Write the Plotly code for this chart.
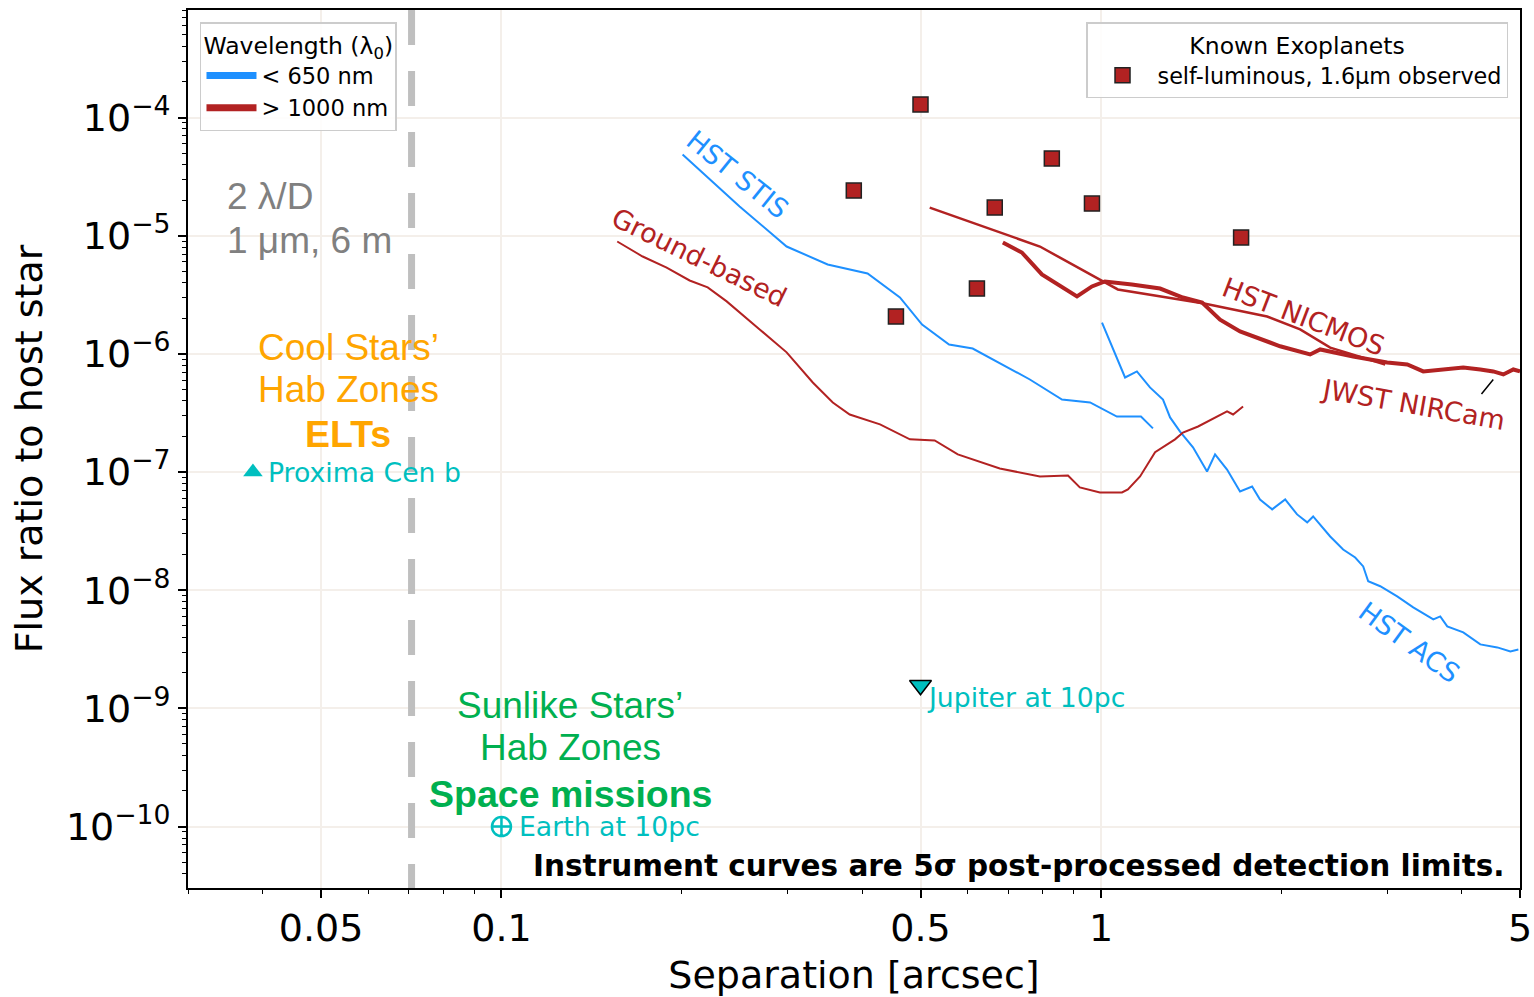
import numpy as np
import plotly.graph_objects as go

# ---------------- data ----------------
# Instrument detection limits: separation [arcsec] vs flux ratio
stis_sep = [0.2005, 0.2496, 0.299, 0.350, 0.408, 0.462, 0.503, 0.558, 0.611, 0.761, 0.861, 0.959, 1.063, 1.166, 1.221]
stis_con = [4.86e-5, 1.77e-5, 8.1e-6, 5.71e-6, 4.79e-6, 3.0e-6, 1.77e-6, 1.2e-6, 1.11e-6, 6.07e-7, 4.11e-7, 3.88e-7, 2.95e-7, 2.95e-7, 2.34e-7]

ground_sep = [0.156, 0.172, 0.1886, 0.206, 0.2208, 0.2375, 0.2696, 0.299, 0.3306, 0.357, 0.381, 0.428, 0.480, 0.528,
              0.577, 0.678, 0.791, 0.881, 0.922, 0.996, 1.084, 1.109, 1.162, 1.231, 1.329, 1.370, 1.452, 1.562, 1.623, 1.661, 1.726]
ground_con = [8.93e-6, 6.67e-6, 5.38e-6, 4.18e-6, 3.65e-6, 2.78e-6, 1.61e-6, 1.03e-6, 5.73e-7, 3.88e-7, 3.07e-7, 2.53e-7, 1.89e-7, 1.85e-7,
              1.41e-7, 1.07e-7, 9.18e-8, 9.36e-8, 7.41e-8, 6.72e-8, 6.72e-8, 7.13e-8, 9.18e-8, 1.47e-7, 1.89e-7, 2.16e-7, 2.43e-7, 2.95e-7, 3.26e-7, 3.07e-7, 3.59e-7]

nicmos_sep = [0.518, 0.791, 1.008, 1.067, 1.486, 1.893, 2.149, 2.412, 2.979]
nicmos_con = [1.73e-5, 8.1e-6, 4.1e-6, 3.51e-6, 2.67e-6, 2.07e-6, 1.61e-6, 1.13e-6, 8.13e-7]

nircam_sep = [0.686, 0.738, 0.797, 0.912, 0.966, 1.015, 1.126, 1.255, 1.370, 1.475, 1.580, 1.706, 1.990, 2.233, 2.321,
              2.634, 3.002, 3.243, 3.448, 3.781, 4.021, 4.293, 4.512, 4.690, 4.873, 5.0]
nircam_con = [8.76e-6, 7.21e-6, 4.70e-6, 3.06e-6, 3.72e-6, 4.1e-6, 3.87e-6, 3.57e-6, 3.0e-6, 2.72e-6, 1.95e-6, 1.55e-6, 1.16e-6, 9.89e-7, 1.09e-6,
              9.51e-7, 8.46e-7, 8.13e-7, 7.1e-7, 7.38e-7, 7.67e-7, 7.38e-7, 7.1e-7, 6.7e-7, 7.38e-7, 7.1e-7]

acs_sep = [1.004, 1.047, 1.097, 1.148, 1.207, 1.269, 1.304, 1.355, 1.424, 1.503, 1.550, 1.623, 1.706, 1.787, 1.842, 1.930,
           2.029, 2.124, 2.208, 2.259, 2.412, 2.535, 2.655, 2.738, 2.791, 2.923, 3.120, 3.318, 3.584, 3.681, 3.781, 4.021,
           4.293, 4.583, 4.818, 4.969]
acs_con = [1.84e-6, 1.09e-6, 6.31e-7, 7.1e-7, 5.2e-7, 4.11e-7, 2.9e-7, 2.2e-7, 1.62e-7, 1.01e-7, 1.41e-7, 1.05e-7, 6.85e-8, 7.55e-8, 5.86e-8, 4.83e-8,
           5.86e-8, 4.38e-8, 3.75e-8, 4.21e-8, 2.85e-8, 2.21e-8, 1.89e-8, 1.59e-8, 1.19e-8, 1.08e-8, 8.87e-9, 7.15e-9, 5.66e-9, 6.0e-9, 4.94e-9, 4.4e-9,
           3.48e-9, 3.28e-9, 3.03e-9, 3.15e-9]

# Known self-luminous exoplanets (H band)
planet_sep = [0.387, 0.5, 0.455, 0.621, 0.665, 0.828, 0.966, 1.713]
planet_con = [2.41e-5, 1.29e-4, 2.07e-6, 3.57e-6, 1.73e-5, 4.50e-5, 1.87e-5, 9.66e-6]

# Reference objects
proxima_sep, proxima_con = [0.0385], [1.0e-7]
jupiter_sep, jupiter_con = [0.5], [1.57e-9]
earth_sep, earth_con = [0.1], [1.0e-10]

# 2 lambda/D for 1 micron on a 6 m aperture, in arcsec
lambda_over_d = 0.0708

x_range = [np.log10(0.03), np.log10(5)]
y_range = [-10.52, -3.09]
x_ticks = [0.05, 0.1, 0.5, 1, 5]
x_tick_text = ["0.05", "0.1", "0.5", "1", "5"]
x_minor = [0.03, 0.04, 0.06, 0.07, 0.08, 0.09, 0.2, 0.3, 0.4, 0.6, 0.7, 0.8, 0.9, 2, 3, 4]
y_exponents = [-10, -9, -8, -7, -6, -5, -4]
y_ticks = [10.0 ** e for e in y_exponents]
y_tick_text = ["10<sup>−%d</sup>" % -e for e in y_exponents]
y_minor = [m * 10.0 ** e for e in range(-11, -3) for m in range(2, 10)]

BLUE = "#1E90FF"
RED = "#B22222"
CYAN = "#00BFBF"
ORANGE = "#FFA500"
GREEN = "#00B050"
GREY = "#808080"

fig = go.Figure()

# inner working angle (2 lambda/D), spanning the full height of the axes
fig.add_trace(go.Scatter(x=[lambda_over_d, lambda_over_d], y=[10 ** y_range[1], 10 ** y_range[0]], mode="lines",
                         line=dict(color="#BFBFBF", width=7, dash="35px,26px"), showlegend=False, hoverinfo="skip"))

def curve(x, y, color, width):
    fig.add_trace(go.Scatter(x=x, y=y, mode="lines", line=dict(color=color, width=width),
                             showlegend=False, hoverinfo="skip"))

curve(stis_sep, stis_con, BLUE, 2)
curve(acs_sep, acs_con, BLUE, 2)
curve(ground_sep, ground_con, RED, 2)
curve(nicmos_sep, nicmos_con, RED, 2.5)
curve(nircam_sep, nircam_con, RED, 4)

# wavelength legend entries
fig.add_trace(go.Scatter(x=[None], y=[None], mode="lines", name="&lt; 650 nm",
                         line=dict(color=BLUE, width=7), legend="legend"))
fig.add_trace(go.Scatter(x=[None], y=[None], mode="lines", name="&gt; 1000 nm",
                         line=dict(color=RED, width=7), legend="legend"))

# planets
fig.add_trace(go.Scatter(x=planet_sep, y=planet_con, mode="markers", name="self-luminous, 1.6μm observed",
                         marker=dict(symbol="square", size=15, color=RED, line=dict(color="#222222", width=1.5)),
                         legend="legend2"))

fig.add_trace(go.Scatter(x=proxima_sep, y=proxima_con, mode="markers", showlegend=False,
                         marker=dict(symbol="triangle-up", size=17, color=CYAN)))
fig.add_trace(go.Scatter(x=jupiter_sep, y=jupiter_con, mode="markers", showlegend=False,
                         marker=dict(symbol="triangle-down", size=19, color=CYAN, line=dict(color="black", width=1.5))))
fig.add_trace(go.Scatter(x=earth_sep, y=earth_con, mode="markers", showlegend=False,
                         marker=dict(symbol="circle-cross-open", size=19, color=CYAN, line=dict(width=2.5))))


def label(text, x, y, color, size, angle=0, family="DejaVu Sans", xanchor="center", align="center"):
    fig.add_annotation(x=np.log10(x), y=np.log10(y), text=text, showarrow=False, textangle=angle,
                       font=dict(color=color, size=size, family=family), xanchor=xanchor, align=align)

label("HST STIS", 0.2477, 3.3e-5, BLUE, 27, 39)
label("Ground-based", 0.214, 6.54e-6, RED, 27, 26)
label("HST NICMOS", 2.174, 2.07e-6, RED, 27, 21)
label("JWST NIRCam", 3.318, 3.73e-7, RED, 27, 10)
label("HST ACS", 3.27, 3.61e-9, BLUE, 27, 36)

label("2 λ/D", 0.0346, 2.15e-5, GREY, 37, family="Liberation Sans", xanchor="left", align="left")
label("1 μm, 6 m", 0.0346, 9.1e-6, GREY, 37, family="Liberation Sans", xanchor="left", align="left")
label("Cool Stars’", 0.0555, 1.13e-6, ORANGE, 37, family="Liberation Sans")
label("Hab Zones", 0.0555, 5.0e-7, ORANGE, 37, family="Liberation Sans")
label("<b>ELTs</b>", 0.0555, 2.08e-7, ORANGE, 37.5, family="Liberation Sans")
label("Sunlike Stars’", 0.1303, 1.06e-9, GREEN, 37, family="Liberation Sans")
label("Hab Zones", 0.1303, 4.68e-10, GREEN, 37, family="Liberation Sans")
label("<b>Space missions</b>", 0.1303, 1.87e-10, GREEN, 37.5, family="Liberation Sans")

fig.add_annotation(x=np.log10(proxima_sep[0]), y=np.log10(proxima_con[0]), text="Proxima Cen b", showarrow=False,
                   xanchor="left", xshift=13, font=dict(color=CYAN, size=26.7))
fig.add_annotation(x=np.log10(jupiter_sep[0]), y=np.log10(jupiter_con[0]), text="Jupiter at 10pc", showarrow=False,
                   xanchor="left", xshift=4, yshift=-12, font=dict(color=CYAN, size=26.7))
fig.add_annotation(x=np.log10(earth_sep[0]), y=np.log10(earth_con[0]), text="Earth at 10pc", showarrow=False,
                   xanchor="left", xshift=16, font=dict(color=CYAN, size=26.7))

# pointer from the NIRCam label to its curve
fig.add_annotation(x=np.log10(4.512), y=np.log10(6.07e-7), ax=-13, ay=16, text="", showarrow=True,
                   arrowhead=0, arrowwidth=1.5, arrowcolor="black", standoff=0)

fig.add_annotation(xref="paper", yref="paper", x=0.99, y=0.025, xanchor="right", yanchor="middle", showarrow=False,
                   text="<b>Instrument curves are 5σ post-processed detection limits.</b>",
                   font=dict(color="black", size=29.5))

axis_common = dict(type="log", showline=True, linecolor="black", linewidth=2, mirror=True,
                   ticks="outside", ticklen=8, tickwidth=1.5, tickcolor="black", automargin=False,
                   showgrid=True, gridcolor="#F4EFEA", gridwidth=1.5, zeroline=False,
                   tickfont=dict(size=38, color="black"), title_font=dict(size=38, color="black"))

fig.update_xaxes(**axis_common, range=x_range, tickmode="array",
                 tickvals=x_ticks, ticktext=x_tick_text, ticklabelstandoff=-3,
                 minor=dict(tickmode="array", tickvals=x_minor, ticks="outside", ticklen=4, tickwidth=1, tickcolor="black", showgrid=False),
                 title_text="Separation [arcsec]", title_standoff=14)
fig.update_yaxes(**axis_common, range=y_range, tickmode="array", tickvals=y_ticks, ticktext=y_tick_text,
                 minor=dict(tickmode="array", tickvals=y_minor, ticks="outside", ticklen=4, tickwidth=1, tickcolor="black", showgrid=False),
                 title_text="Flux ratio to host star", title_standoff=12)

fig.update_layout(
    width=1534, height=997,
    margin=dict(l=188, r=14, t=10, b=109),
    plot_bgcolor="white", paper_bgcolor="white",
    font=dict(family="DejaVu Sans", color="black"),
    legend=dict(title=dict(text="Wavelength (λ<sub>0</sub>)", font=dict(size=23.5)),
                x=0.009, y=0.986, xanchor="left", yanchor="top", bgcolor="rgba(255,255,255,0.85)",
                bordercolor="#CCCCCC", borderwidth=1.5, font=dict(size=22.5), itemwidth=50),
    legend2=dict(title=dict(text="Known Exoplanets", font=dict(size=23.5), side="top center"),
                 x=0.991, y=0.986, xanchor="right", yanchor="top", bgcolor="rgba(255,255,255,0.85)",
                 bordercolor="#CCCCCC", borderwidth=1.5, font=dict(size=22.3), itemwidth=60),
)

fig.write_html("out.html")
